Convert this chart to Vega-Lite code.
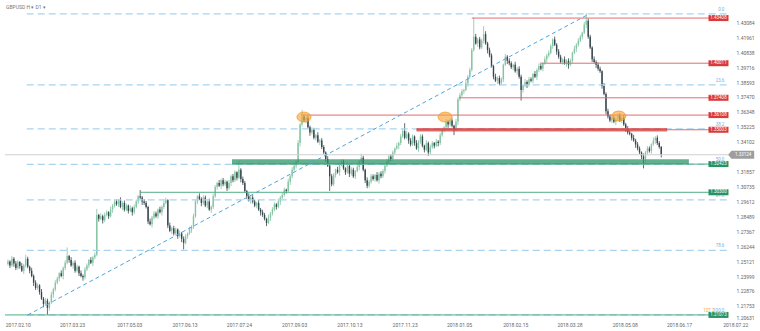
{
"$schema":"https://vega.github.io/schema/vega-lite/v6.json",
"width":760,"height":321,"autosize":{"type":"none"},"padding":{"left":0,"top":0,"right":0,"bottom":10},"background":"white",
"config":{"view":{"stroke":null},"font":"Roboto","axis":{"labelOverlap":false,"labelBound":false}},
"title":{"text":"GBPUSD    H ▾    D1 ▾","anchor":"start","offset":-10,"dx":6,"fontSize":5,"fontWeight":"normal","color":"#777"},
"datasets":{
"ohlc":[
{"i":0,"o":1.2490,"h":1.2525,"l":1.2478,"c":1.2510},
{"i":1,"o":1.2510,"h":1.2518,"l":1.2460,"c":1.2480},
{"i":2,"o":1.2480,"h":1.2552,"l":1.2470,"c":1.2530},
{"i":3,"o":1.2530,"h":1.2542,"l":1.2470,"c":1.2495},
{"i":4,"o":1.2495,"h":1.2513,"l":1.2445,"c":1.2460},
{"i":5,"o":1.2460,"h":1.2520,"l":1.2448,"c":1.2505},
{"i":6,"o":1.2505,"h":1.2513,"l":1.2455,"c":1.2475},
{"i":7,"o":1.2475,"h":1.2497,"l":1.2430,"c":1.2440},
{"i":8,"o":1.2440,"h":1.2492,"l":1.2415,"c":1.2480},
{"i":9,"o":1.2480,"h":1.2560,"l":1.2465,"c":1.2530},
{"i":10,"o":1.2530,"h":1.2545,"l":1.2458,"c":1.2470},
{"i":11,"o":1.2470,"h":1.2478,"l":1.2420,"c":1.2440},
{"i":12,"o":1.2440,"h":1.2462,"l":1.2390,"c":1.2400},
{"i":13,"o":1.2400,"h":1.2412,"l":1.2325,"c":1.2350},
{"i":14,"o":1.2350,"h":1.2368,"l":1.2295,"c":1.2310},
{"i":15,"o":1.2310,"h":1.2345,"l":1.2298,"c":1.2330},
{"i":16,"o":1.2330,"h":1.2338,"l":1.2260,"c":1.2280},
{"i":17,"o":1.2280,"h":1.2302,"l":1.2220,"c":1.2230},
{"i":18,"o":1.2230,"h":1.2242,"l":1.2165,"c":1.2190},
{"i":19,"o":1.2190,"h":1.2233,"l":1.2175,"c":1.2215},
{"i":20,"o":1.2215,"h":1.2230,"l":1.2109,"c":1.2160},
{"i":21,"o":1.2160,"h":1.2208,"l":1.2140,"c":1.2200},
{"i":22,"o":1.2200,"h":1.2282,"l":1.2190,"c":1.2260},
{"i":23,"o":1.2260,"h":1.2312,"l":1.2235,"c":1.2300},
{"i":24,"o":1.2300,"h":1.2368,"l":1.2285,"c":1.2350},
{"i":25,"o":1.2350,"h":1.2395,"l":1.2338,"c":1.2380},
{"i":26,"o":1.2380,"h":1.2428,"l":1.2360,"c":1.2420},
{"i":27,"o":1.2420,"h":1.2442,"l":1.2390,"c":1.2400},
{"i":28,"o":1.2400,"h":1.2472,"l":1.2375,"c":1.2460},
{"i":29,"o":1.2460,"h":1.2518,"l":1.2445,"c":1.2500},
{"i":30,"o":1.2500,"h":1.2615,"l":1.2488,"c":1.2550},
{"i":31,"o":1.2550,"h":1.2558,"l":1.2500,"c":1.2520},
{"i":32,"o":1.2520,"h":1.2542,"l":1.2470,"c":1.2480},
{"i":33,"o":1.2480,"h":1.2512,"l":1.2455,"c":1.2500},
{"i":34,"o":1.2500,"h":1.2518,"l":1.2425,"c":1.2440},
{"i":35,"o":1.2440,"h":1.2485,"l":1.2428,"c":1.2470},
{"i":36,"o":1.2470,"h":1.2478,"l":1.2400,"c":1.2420},
{"i":37,"o":1.2420,"h":1.2442,"l":1.2390,"c":1.2400},
{"i":38,"o":1.2400,"h":1.2412,"l":1.2365,"c":1.2390},
{"i":39,"o":1.2390,"h":1.2468,"l":1.2375,"c":1.2450},
{"i":40,"o":1.2450,"h":1.2495,"l":1.2438,"c":1.2480},
{"i":41,"o":1.2480,"h":1.2528,"l":1.2460,"c":1.2520},
{"i":42,"o":1.2520,"h":1.2542,"l":1.2490,"c":1.2500},
{"i":43,"o":1.2500,"h":1.2552,"l":1.2475,"c":1.2540},
{"i":44,"o":1.2540,"h":1.2578,"l":1.2525,"c":1.2560},
{"i":45,"o":1.2560,"h":1.2905,"l":1.2548,"c":1.2860},
{"i":46,"o":1.2860,"h":1.2868,"l":1.2810,"c":1.2830},
{"i":47,"o":1.2830,"h":1.2872,"l":1.2820,"c":1.2850},
{"i":48,"o":1.2850,"h":1.2862,"l":1.2795,"c":1.2820},
{"i":49,"o":1.2820,"h":1.2878,"l":1.2805,"c":1.2860},
{"i":50,"o":1.2860,"h":1.2895,"l":1.2848,"c":1.2880},
{"i":51,"o":1.2880,"h":1.2888,"l":1.2830,"c":1.2850},
{"i":52,"o":1.2850,"h":1.2922,"l":1.2840,"c":1.2900},
{"i":53,"o":1.2900,"h":1.2942,"l":1.2875,"c":1.2930},
{"i":54,"o":1.2930,"h":1.2978,"l":1.2915,"c":1.2960},
{"i":55,"o":1.2960,"h":1.2975,"l":1.2928,"c":1.2940},
{"i":56,"o":1.2940,"h":1.2978,"l":1.2920,"c":1.2970},
{"i":57,"o":1.2970,"h":1.2992,"l":1.2910,"c":1.2920},
{"i":58,"o":1.2920,"h":1.2962,"l":1.2895,"c":1.2950},
{"i":59,"o":1.2950,"h":1.2968,"l":1.2885,"c":1.2900},
{"i":60,"o":1.2900,"h":1.2945,"l":1.2888,"c":1.2930},
{"i":61,"o":1.2930,"h":1.2938,"l":1.2870,"c":1.2890},
{"i":62,"o":1.2890,"h":1.2932,"l":1.2880,"c":1.2910},
{"i":63,"o":1.2910,"h":1.2922,"l":1.2855,"c":1.2880},
{"i":64,"o":1.2880,"h":1.2938,"l":1.2865,"c":1.2920},
{"i":65,"o":1.2920,"h":1.2975,"l":1.2908,"c":1.2960},
{"i":66,"o":1.2960,"h":1.3008,"l":1.2940,"c":1.3000},
{"i":67,"o":1.3000,"h":1.3047,"l":1.2980,"c":1.2990},
{"i":68,"o":1.2990,"h":1.3002,"l":1.2935,"c":1.2960},
{"i":69,"o":1.2960,"h":1.2978,"l":1.2935,"c":1.2950},
{"i":70,"o":1.2950,"h":1.2965,"l":1.2908,"c":1.2920},
{"i":71,"o":1.2920,"h":1.2928,"l":1.2790,"c":1.2810},
{"i":72,"o":1.2810,"h":1.2832,"l":1.2780,"c":1.2790},
{"i":73,"o":1.2790,"h":1.2852,"l":1.2765,"c":1.2840},
{"i":74,"o":1.2840,"h":1.2888,"l":1.2825,"c":1.2870},
{"i":75,"o":1.2870,"h":1.2885,"l":1.2838,"c":1.2850},
{"i":76,"o":1.2850,"h":1.2908,"l":1.2830,"c":1.2900},
{"i":77,"o":1.2900,"h":1.2922,"l":1.2870,"c":1.2880},
{"i":78,"o":1.2880,"h":1.2932,"l":1.2855,"c":1.2920},
{"i":79,"o":1.2920,"h":1.2968,"l":1.2905,"c":1.2950},
{"i":80,"o":1.2950,"h":1.2990,"l":1.2938,"c":1.2970},
{"i":81,"o":1.2970,"h":1.2978,"l":1.2760,"c":1.2780},
{"i":82,"o":1.2780,"h":1.2802,"l":1.2730,"c":1.2740},
{"i":83,"o":1.2740,"h":1.2772,"l":1.2715,"c":1.2760},
{"i":84,"o":1.2760,"h":1.2778,"l":1.2705,"c":1.2720},
{"i":85,"o":1.2720,"h":1.2765,"l":1.2708,"c":1.2750},
{"i":86,"o":1.2750,"h":1.2758,"l":1.2680,"c":1.2700},
{"i":87,"o":1.2700,"h":1.2742,"l":1.2690,"c":1.2720},
{"i":88,"o":1.2720,"h":1.2732,"l":1.2655,"c":1.2680},
{"i":89,"o":1.2680,"h":1.2698,"l":1.2600,"c":1.2650},
{"i":90,"o":1.2650,"h":1.2715,"l":1.2638,"c":1.2700},
{"i":91,"o":1.2700,"h":1.2728,"l":1.2680,"c":1.2720},
{"i":92,"o":1.2720,"h":1.2772,"l":1.2710,"c":1.2750},
{"i":93,"o":1.2750,"h":1.2782,"l":1.2725,"c":1.2770},
{"i":94,"o":1.2770,"h":1.2868,"l":1.2755,"c":1.2850},
{"i":95,"o":1.2850,"h":1.2975,"l":1.2838,"c":1.2960},
{"i":96,"o":1.2960,"h":1.3008,"l":1.2940,"c":1.3000},
{"i":97,"o":1.3000,"h":1.3022,"l":1.2970,"c":1.2980},
{"i":98,"o":1.2980,"h":1.2992,"l":1.2925,"c":1.2950},
{"i":99,"o":1.2950,"h":1.3008,"l":1.2935,"c":1.2990},
{"i":100,"o":1.2990,"h":1.3005,"l":1.2918,"c":1.2930},
{"i":101,"o":1.2930,"h":1.2968,"l":1.2910,"c":1.2960},
{"i":102,"o":1.2960,"h":1.2982,"l":1.2890,"c":1.2900},
{"i":103,"o":1.2900,"h":1.2932,"l":1.2875,"c":1.2920},
{"i":104,"o":1.2920,"h":1.3018,"l":1.2905,"c":1.3000},
{"i":105,"o":1.3000,"h":1.3085,"l":1.2988,"c":1.3070},
{"i":106,"o":1.3070,"h":1.3108,"l":1.3050,"c":1.3100},
{"i":107,"o":1.3100,"h":1.3122,"l":1.3070,"c":1.3080},
{"i":108,"o":1.3080,"h":1.3132,"l":1.3055,"c":1.3120},
{"i":109,"o":1.3120,"h":1.3138,"l":1.3075,"c":1.3090},
{"i":110,"o":1.3090,"h":1.3125,"l":1.3078,"c":1.3110},
{"i":111,"o":1.3110,"h":1.3118,"l":1.3040,"c":1.3060},
{"i":112,"o":1.3060,"h":1.3122,"l":1.3050,"c":1.3100},
{"i":113,"o":1.3100,"h":1.3162,"l":1.3075,"c":1.3150},
{"i":114,"o":1.3150,"h":1.3168,"l":1.3105,"c":1.3120},
{"i":115,"o":1.3120,"h":1.3195,"l":1.3108,"c":1.3180},
{"i":116,"o":1.3180,"h":1.3188,"l":1.3120,"c":1.3140},
{"i":117,"o":1.3140,"h":1.3270,"l":1.3130,"c":1.3200},
{"i":118,"o":1.3200,"h":1.3212,"l":1.3105,"c":1.3130},
{"i":119,"o":1.3130,"h":1.3148,"l":1.3085,"c":1.3100},
{"i":120,"o":1.3100,"h":1.3115,"l":1.3028,"c":1.3040},
{"i":121,"o":1.3040,"h":1.3048,"l":1.2980,"c":1.3000},
{"i":122,"o":1.3000,"h":1.3022,"l":1.2960,"c":1.2970},
{"i":123,"o":1.2970,"h":1.3002,"l":1.2945,"c":1.2990},
{"i":124,"o":1.2990,"h":1.3008,"l":1.2945,"c":1.2960},
{"i":125,"o":1.2960,"h":1.2975,"l":1.2918,"c":1.2930},
{"i":126,"o":1.2930,"h":1.2958,"l":1.2910,"c":1.2950},
{"i":127,"o":1.2950,"h":1.2972,"l":1.2890,"c":1.2900},
{"i":128,"o":1.2900,"h":1.2912,"l":1.2855,"c":1.2880},
{"i":129,"o":1.2880,"h":1.2898,"l":1.2845,"c":1.2860},
{"i":130,"o":1.2860,"h":1.2875,"l":1.2818,"c":1.2830},
{"i":131,"o":1.2830,"h":1.2838,"l":1.2775,"c":1.2800},
{"i":132,"o":1.2800,"h":1.2862,"l":1.2790,"c":1.2840},
{"i":133,"o":1.2840,"h":1.2882,"l":1.2815,"c":1.2870},
{"i":134,"o":1.2870,"h":1.2918,"l":1.2855,"c":1.2900},
{"i":135,"o":1.2900,"h":1.2955,"l":1.2888,"c":1.2940},
{"i":136,"o":1.2940,"h":1.2948,"l":1.2900,"c":1.2920},
{"i":137,"o":1.2920,"h":1.2982,"l":1.2910,"c":1.2960},
{"i":138,"o":1.2960,"h":1.3002,"l":1.2935,"c":1.2990},
{"i":139,"o":1.2990,"h":1.3028,"l":1.2975,"c":1.3010},
{"i":140,"o":1.3010,"h":1.3065,"l":1.2998,"c":1.3050},
{"i":141,"o":1.3050,"h":1.3058,"l":1.3020,"c":1.3040},
{"i":142,"o":1.3040,"h":1.3132,"l":1.3030,"c":1.3110},
{"i":143,"o":1.3110,"h":1.3162,"l":1.3085,"c":1.3150},
{"i":144,"o":1.3150,"h":1.3218,"l":1.3135,"c":1.3200},
{"i":145,"o":1.3200,"h":1.3245,"l":1.3188,"c":1.3230},
{"i":146,"o":1.3230,"h":1.3268,"l":1.3210,"c":1.3260},
{"i":147,"o":1.3260,"h":1.3422,"l":1.3250,"c":1.3400},
{"i":148,"o":1.3400,"h":1.3552,"l":1.3375,"c":1.3540},
{"i":149,"o":1.3540,"h":1.3650,"l":1.3525,"c":1.3600},
{"i":150,"o":1.3600,"h":1.3615,"l":1.3558,"c":1.3570},
{"i":151,"o":1.3570,"h":1.3598,"l":1.3550,"c":1.3590},
{"i":152,"o":1.3590,"h":1.3612,"l":1.3510,"c":1.3520},
{"i":153,"o":1.3520,"h":1.3532,"l":1.3455,"c":1.3480},
{"i":154,"o":1.3480,"h":1.3518,"l":1.3465,"c":1.3500},
{"i":155,"o":1.3500,"h":1.3515,"l":1.3428,"c":1.3440},
{"i":156,"o":1.3440,"h":1.3468,"l":1.3420,"c":1.3460},
{"i":157,"o":1.3460,"h":1.3482,"l":1.3400,"c":1.3410},
{"i":158,"o":1.3410,"h":1.3432,"l":1.3385,"c":1.3420},
{"i":159,"o":1.3420,"h":1.3438,"l":1.3355,"c":1.3370},
{"i":160,"o":1.3370,"h":1.3385,"l":1.3318,"c":1.3330},
{"i":161,"o":1.3330,"h":1.3338,"l":1.3260,"c":1.3280},
{"i":162,"o":1.3280,"h":1.3302,"l":1.3220,"c":1.3230},
{"i":163,"o":1.3230,"h":1.3238,"l":1.3040,"c":1.3150},
{"i":164,"o":1.3150,"h":1.3168,"l":1.3075,"c":1.3090},
{"i":165,"o":1.3090,"h":1.3175,"l":1.3078,"c":1.3160},
{"i":166,"o":1.3160,"h":1.3208,"l":1.3140,"c":1.3200},
{"i":167,"o":1.3200,"h":1.3222,"l":1.3170,"c":1.3180},
{"i":168,"o":1.3180,"h":1.3252,"l":1.3155,"c":1.3240},
{"i":169,"o":1.3240,"h":1.3278,"l":1.3225,"c":1.3260},
{"i":170,"o":1.3260,"h":1.3275,"l":1.3198,"c":1.3210},
{"i":171,"o":1.3210,"h":1.3218,"l":1.3160,"c":1.3180},
{"i":172,"o":1.3180,"h":1.3252,"l":1.3170,"c":1.3230},
{"i":173,"o":1.3230,"h":1.3242,"l":1.3145,"c":1.3170},
{"i":174,"o":1.3170,"h":1.3218,"l":1.3155,"c":1.3200},
{"i":175,"o":1.3200,"h":1.3215,"l":1.3138,"c":1.3150},
{"i":176,"o":1.3150,"h":1.3198,"l":1.3130,"c":1.3190},
{"i":177,"o":1.3190,"h":1.3242,"l":1.3180,"c":1.3220},
{"i":178,"o":1.3220,"h":1.3272,"l":1.3195,"c":1.3260},
{"i":179,"o":1.3260,"h":1.3320,"l":1.3245,"c":1.3290},
{"i":180,"o":1.3290,"h":1.3305,"l":1.3188,"c":1.3200},
{"i":181,"o":1.3200,"h":1.3208,"l":1.3100,"c":1.3120},
{"i":182,"o":1.3120,"h":1.3142,"l":1.3060,"c":1.3080},
{"i":183,"o":1.3080,"h":1.3122,"l":1.3065,"c":1.3110},
{"i":184,"o":1.3110,"h":1.3168,"l":1.3095,"c":1.3150},
{"i":185,"o":1.3150,"h":1.3165,"l":1.3118,"c":1.3130},
{"i":186,"o":1.3130,"h":1.3168,"l":1.3110,"c":1.3160},
{"i":187,"o":1.3160,"h":1.3182,"l":1.3110,"c":1.3120},
{"i":188,"o":1.3120,"h":1.3182,"l":1.3095,"c":1.3170},
{"i":189,"o":1.3170,"h":1.3188,"l":1.3135,"c":1.3150},
{"i":190,"o":1.3150,"h":1.3205,"l":1.3138,"c":1.3190},
{"i":191,"o":1.3190,"h":1.3238,"l":1.3170,"c":1.3230},
{"i":192,"o":1.3230,"h":1.3282,"l":1.3220,"c":1.3260},
{"i":193,"o":1.3260,"h":1.3312,"l":1.3235,"c":1.3300},
{"i":194,"o":1.3300,"h":1.3318,"l":1.3265,"c":1.3280},
{"i":195,"o":1.3280,"h":1.3345,"l":1.3268,"c":1.3330},
{"i":196,"o":1.3330,"h":1.3368,"l":1.3310,"c":1.3360},
{"i":197,"o":1.3360,"h":1.3402,"l":1.3350,"c":1.3380},
{"i":198,"o":1.3380,"h":1.3412,"l":1.3355,"c":1.3400},
{"i":199,"o":1.3400,"h":1.3468,"l":1.3385,"c":1.3450},
{"i":200,"o":1.3450,"h":1.3505,"l":1.3438,"c":1.3490},
{"i":201,"o":1.3490,"h":1.3550,"l":1.3428,"c":1.3440},
{"i":202,"o":1.3440,"h":1.3492,"l":1.3430,"c":1.3470},
{"i":203,"o":1.3470,"h":1.3482,"l":1.3395,"c":1.3420},
{"i":204,"o":1.3420,"h":1.3438,"l":1.3375,"c":1.3390},
{"i":205,"o":1.3390,"h":1.3465,"l":1.3378,"c":1.3450},
{"i":206,"o":1.3450,"h":1.3458,"l":1.3380,"c":1.3400},
{"i":207,"o":1.3400,"h":1.3422,"l":1.3350,"c":1.3360},
{"i":208,"o":1.3360,"h":1.3422,"l":1.3335,"c":1.3410},
{"i":209,"o":1.3410,"h":1.3468,"l":1.3395,"c":1.3450},
{"i":210,"o":1.3450,"h":1.3465,"l":1.3368,"c":1.3380},
{"i":211,"o":1.3380,"h":1.3388,"l":1.3330,"c":1.3350},
{"i":212,"o":1.3350,"h":1.3422,"l":1.3340,"c":1.3400},
{"i":213,"o":1.3400,"h":1.3412,"l":1.3305,"c":1.3330},
{"i":214,"o":1.3330,"h":1.3388,"l":1.3315,"c":1.3370},
{"i":215,"o":1.3370,"h":1.3415,"l":1.3358,"c":1.3400},
{"i":216,"o":1.3400,"h":1.3408,"l":1.3360,"c":1.3380},
{"i":217,"o":1.3380,"h":1.3432,"l":1.3370,"c":1.3410},
{"i":218,"o":1.3410,"h":1.3422,"l":1.3375,"c":1.3400},
{"i":219,"o":1.3400,"h":1.3478,"l":1.3385,"c":1.3460},
{"i":220,"o":1.3460,"h":1.3515,"l":1.3448,"c":1.3500},
{"i":221,"o":1.3500,"h":1.3528,"l":1.3480,"c":1.3520},
{"i":222,"o":1.3520,"h":1.3582,"l":1.3510,"c":1.3560},
{"i":223,"o":1.3560,"h":1.3572,"l":1.3515,"c":1.3540},
{"i":224,"o":1.3540,"h":1.3588,"l":1.3525,"c":1.3570},
{"i":225,"o":1.3570,"h":1.3585,"l":1.3518,"c":1.3530},
{"i":226,"o":1.3530,"h":1.3538,"l":1.3460,"c":1.3500},
{"i":227,"o":1.3500,"h":1.3582,"l":1.3490,"c":1.3560},
{"i":228,"o":1.3560,"h":1.3742,"l":1.3535,"c":1.3730},
{"i":229,"o":1.3730,"h":1.3778,"l":1.3715,"c":1.3760},
{"i":230,"o":1.3760,"h":1.3805,"l":1.3748,"c":1.3790},
{"i":231,"o":1.3790,"h":1.3808,"l":1.3770,"c":1.3800},
{"i":232,"o":1.3800,"h":1.3872,"l":1.3790,"c":1.3850},
{"i":233,"o":1.3850,"h":1.3912,"l":1.3825,"c":1.3900},
{"i":234,"o":1.3900,"h":1.3968,"l":1.3885,"c":1.3950},
{"i":235,"o":1.3950,"h":1.4115,"l":1.3938,"c":1.4100},
{"i":236,"o":1.4100,"h":1.4345,"l":1.4088,"c":1.4200},
{"i":237,"o":1.4200,"h":1.4222,"l":1.4140,"c":1.4150},
{"i":238,"o":1.4150,"h":1.4192,"l":1.4125,"c":1.4180},
{"i":239,"o":1.4180,"h":1.4198,"l":1.4105,"c":1.4120},
{"i":240,"o":1.4120,"h":1.4185,"l":1.4108,"c":1.4170},
{"i":241,"o":1.4170,"h":1.4280,"l":1.4150,"c":1.4220},
{"i":242,"o":1.4220,"h":1.4242,"l":1.4140,"c":1.4150},
{"i":243,"o":1.4150,"h":1.4162,"l":1.4075,"c":1.4100},
{"i":244,"o":1.4100,"h":1.4118,"l":1.4045,"c":1.4060},
{"i":245,"o":1.4060,"h":1.4075,"l":1.3968,"c":1.3980},
{"i":246,"o":1.3980,"h":1.3988,"l":1.3880,"c":1.3900},
{"i":247,"o":1.3900,"h":1.3922,"l":1.3860,"c":1.3870},
{"i":248,"o":1.3870,"h":1.3902,"l":1.3845,"c":1.3890},
{"i":249,"o":1.3890,"h":1.3908,"l":1.3835,"c":1.3850},
{"i":250,"o":1.3850,"h":1.3895,"l":1.3838,"c":1.3880},
{"i":251,"o":1.3880,"h":1.3998,"l":1.3860,"c":1.3990},
{"i":252,"o":1.3990,"h":1.4072,"l":1.3980,"c":1.4050},
{"i":253,"o":1.4050,"h":1.4062,"l":1.3995,"c":1.4020},
{"i":254,"o":1.4020,"h":1.4038,"l":1.3985,"c":1.4000},
{"i":255,"o":1.4000,"h":1.4015,"l":1.3958,"c":1.3970},
{"i":256,"o":1.3970,"h":1.3998,"l":1.3950,"c":1.3990},
{"i":257,"o":1.3990,"h":1.4012,"l":1.3930,"c":1.3940},
{"i":258,"o":1.3940,"h":1.3972,"l":1.3915,"c":1.3960},
{"i":259,"o":1.3960,"h":1.3978,"l":1.3885,"c":1.3900},
{"i":260,"o":1.3900,"h":1.3915,"l":1.3720,"c":1.3800},
{"i":261,"o":1.3800,"h":1.3838,"l":1.3780,"c":1.3830},
{"i":262,"o":1.3830,"h":1.3882,"l":1.3820,"c":1.3860},
{"i":263,"o":1.3860,"h":1.3872,"l":1.3815,"c":1.3840},
{"i":264,"o":1.3840,"h":1.3898,"l":1.3825,"c":1.3880},
{"i":265,"o":1.3880,"h":1.3895,"l":1.3858,"c":1.3870},
{"i":266,"o":1.3870,"h":1.3928,"l":1.3850,"c":1.3920},
{"i":267,"o":1.3920,"h":1.3942,"l":1.3890,"c":1.3900},
{"i":268,"o":1.3900,"h":1.3962,"l":1.3875,"c":1.3950},
{"i":269,"o":1.3950,"h":1.3998,"l":1.3935,"c":1.3980},
{"i":270,"o":1.3980,"h":1.3995,"l":1.3948,"c":1.3960},
{"i":271,"o":1.3960,"h":1.4008,"l":1.3940,"c":1.4000},
{"i":272,"o":1.4000,"h":1.4052,"l":1.3990,"c":1.4030},
{"i":273,"o":1.4030,"h":1.4072,"l":1.4005,"c":1.4060},
{"i":274,"o":1.4060,"h":1.4098,"l":1.4045,"c":1.4080},
{"i":275,"o":1.4080,"h":1.4145,"l":1.4068,"c":1.4130},
{"i":276,"o":1.4130,"h":1.4188,"l":1.4110,"c":1.4180},
{"i":277,"o":1.4180,"h":1.4202,"l":1.4130,"c":1.4140},
{"i":278,"o":1.4140,"h":1.4152,"l":1.4065,"c":1.4090},
{"i":279,"o":1.4090,"h":1.4108,"l":1.4035,"c":1.4050},
{"i":280,"o":1.4050,"h":1.4065,"l":1.3998,"c":1.4010},
{"i":281,"o":1.4010,"h":1.4038,"l":1.3990,"c":1.4030},
{"i":282,"o":1.4030,"h":1.4052,"l":1.3990,"c":1.4000},
{"i":283,"o":1.4000,"h":1.4032,"l":1.3975,"c":1.4020},
{"i":284,"o":1.4020,"h":1.4038,"l":1.3960,"c":1.3990},
{"i":285,"o":1.3990,"h":1.4035,"l":1.3978,"c":1.4020},
{"i":286,"o":1.4020,"h":1.4088,"l":1.4000,"c":1.4080},
{"i":287,"o":1.4080,"h":1.4132,"l":1.4070,"c":1.4110},
{"i":288,"o":1.4110,"h":1.4152,"l":1.4085,"c":1.4140},
{"i":289,"o":1.4140,"h":1.4188,"l":1.4125,"c":1.4170},
{"i":290,"o":1.4170,"h":1.4215,"l":1.4158,"c":1.4200},
{"i":291,"o":1.4200,"h":1.4238,"l":1.4180,"c":1.4230},
{"i":292,"o":1.4230,"h":1.4312,"l":1.4220,"c":1.4290},
{"i":293,"o":1.4290,"h":1.4377,"l":1.4265,"c":1.4320},
{"i":294,"o":1.4320,"h":1.4338,"l":1.4185,"c":1.4200},
{"i":295,"o":1.4200,"h":1.4215,"l":1.4108,"c":1.4120},
{"i":296,"o":1.4120,"h":1.4128,"l":1.4010,"c":1.4030},
{"i":297,"o":1.4030,"h":1.4052,"l":1.4000,"c":1.4010},
{"i":298,"o":1.4010,"h":1.4022,"l":1.3965,"c":1.3990},
{"i":299,"o":1.3990,"h":1.4008,"l":1.3945,"c":1.3960},
{"i":300,"o":1.3960,"h":1.3975,"l":1.3928,"c":1.3940},
{"i":301,"o":1.3940,"h":1.3948,"l":1.3810,"c":1.3830},
{"i":302,"o":1.3830,"h":1.3852,"l":1.3760,"c":1.3770},
{"i":303,"o":1.3770,"h":1.3782,"l":1.3615,"c":1.3640},
{"i":304,"o":1.3640,"h":1.3658,"l":1.3585,"c":1.3600},
{"i":305,"o":1.3600,"h":1.3615,"l":1.3558,"c":1.3570},
{"i":306,"o":1.3570,"h":1.3598,"l":1.3550,"c":1.3590},
{"i":307,"o":1.3590,"h":1.3612,"l":1.3550,"c":1.3560},
{"i":308,"o":1.3560,"h":1.3592,"l":1.3535,"c":1.3580},
{"i":309,"o":1.3580,"h":1.3620,"l":1.3565,"c":1.3610},
{"i":310,"o":1.3610,"h":1.3625,"l":1.3558,"c":1.3570},
{"i":311,"o":1.3570,"h":1.3598,"l":1.3550,"c":1.3590},
{"i":312,"o":1.3590,"h":1.3612,"l":1.3530,"c":1.3540},
{"i":313,"o":1.3540,"h":1.3552,"l":1.3485,"c":1.3510},
{"i":314,"o":1.3510,"h":1.3528,"l":1.3465,"c":1.3480},
{"i":315,"o":1.3480,"h":1.3495,"l":1.3458,"c":1.3470},
{"i":316,"o":1.3470,"h":1.3478,"l":1.3420,"c":1.3440},
{"i":317,"o":1.3440,"h":1.3462,"l":1.3410,"c":1.3420},
{"i":318,"o":1.3420,"h":1.3432,"l":1.3365,"c":1.3390},
{"i":319,"o":1.3390,"h":1.3408,"l":1.3345,"c":1.3360},
{"i":320,"o":1.3360,"h":1.3375,"l":1.3318,"c":1.3330},
{"i":321,"o":1.3330,"h":1.3338,"l":1.3280,"c":1.3300},
{"i":322,"o":1.3300,"h":1.3322,"l":1.3210,"c":1.3280},
{"i":323,"o":1.3280,"h":1.3342,"l":1.3255,"c":1.3330},
{"i":324,"o":1.3330,"h":1.3378,"l":1.3315,"c":1.3360},
{"i":325,"o":1.3360,"h":1.3375,"l":1.3328,"c":1.3340},
{"i":326,"o":1.3340,"h":1.3398,"l":1.3320,"c":1.3390},
{"i":327,"o":1.3390,"h":1.3442,"l":1.3380,"c":1.3420},
{"i":328,"o":1.3420,"h":1.3452,"l":1.3395,"c":1.3440},
{"i":329,"o":1.3440,"h":1.3458,"l":1.3385,"c":1.3400},
{"i":330,"o":1.3400,"h":1.3415,"l":1.3358,"c":1.3370},
{"i":331,"o":1.3370,"h":1.3378,"l":1.3292,"c":1.3312}
],
"fib":[{"p":1.4372,"t":"0.0"},{"p":1.3838,"t":"23.6"},{"p":1.3507,"t":"38.2"},{"p":1.3240,"t":"50.0"},{"p":1.2973,"t":"61.8"},{"p":1.2593,"t":"78.6"},{"p":1.2108,"t":"100.0"}],
"ext":[{"p":1.2108,"t":"127.2"}],
"levels":[
{"p":1.43408,"s":235,"k":"R","t":"1.43408"},
{"p":1.40011,"s":269.5,"k":"R","t":"1.40011"},
{"p":1.37408,"s":228.5,"k":"R","t":"1.37408"},
{"p":1.36108,"s":148.5,"k":"R","t":"1.36108"},
{"p":1.35003,"s":207,"k":"R","t":"1.35003"},
{"p":1.32423,"s":113.5,"k":"S","t":"1.32423"},
{"p":1.30300,"s":67,"k":"S","t":"1.30300"},
{"p":1.21073,"s":-1.5,"k":"S","t":"1.21073"}
],
"zones":[{"s":113.5,"e":345,"p1":1.3241,"p2":1.3279,"k":"S"},{"s":207,"e":334,"p1":1.3487,"p2":1.3513,"k":"R"}],
"last":[{"p":1.33124}],
"marks":[{"i":150,"p":1.3596},{"i":221.5,"p":1.3596},{"i":309.5,"p":1.3604}],
"trend":[{"i":10,"p":1.2107},{"i":293.5,"p":1.4364}]
},
"layer":[
{"data":{"name":"ohlc"},
 "encoding":{"x":{"field":"i","type":"quantitative","scale":{"domain":[-1.5,378.5],"nice":false,"zero":false},"axis":{"values":[5,32.5,61.5,89.5,117,145,173,201,228.5,257,284.5,312.5,340,368.5],"tickCount":50,
   "labelExpr":"datum.value==5?'2017.02.10':datum.value==32.5?'2017.03.23':datum.value==61.5?'2017.05.03':datum.value==89.5?'2017.06.13':datum.value==117?'2017.07.24':datum.value==145?'2017.09.03':datum.value==173?'2017.10.13':datum.value==201?'2017.11.23':datum.value==228.5?'2018.01.05':datum.value==257?'2018.02.15':datum.value==284.5?'2018.03.28':datum.value==312.5?'2018.05.08':datum.value==340?'2018.06.17':'2018.07.22'",
   "labelFontSize":5,"labelColor":"#666","domain":false,"ticks":false,"grid":false,"labelPadding":1,"labelFlush":false,"labelOverlap":false,"title":null}},
  "y":{"field":"l","type":"quantitative","scale":{"domain":[1.20616,1.44767],"nice":false,"zero":false},"axis":{"orient":"right","offset":-25,"values":[1.43084,1.41961,1.40838,1.39716,1.38593,1.37470,1.36348,1.35225,1.34102,1.31857,1.30735,1.29612,1.28489,1.27367,1.26244,1.25121,1.23999,1.22876,1.21753,1.20631],"tickCount":50,"format":".5f","labelFontSize":5,"labelColor":"#666","domain":false,"ticks":false,"grid":false,"labelPadding":1,"labelFlush":3,"labelAlign":"left","labelOverlap":false,"labelBound":false,"title":null}},
  "color":{"condition":{"test":"datum.c >= datum.o","value":"#84c4a3"},"value":"#37464d"}},
 "layer":[
  {"mark":{"type":"rule","strokeWidth":0.8},"encoding":{"y2":{"field":"h"}}},
  {"mark":{"type":"bar","width":1.4},"encoding":{"y":{"field":"o","type":"quantitative"},"y2":{"field":"c"}}}
 ]},
{"data":{"name":"fib"},"mark":{"type":"rule","color":"#a9d4ef","strokeDash":[7,4],"strokeWidth":1.2},
 "encoding":{"x":{"datum":9.5,"type":"quantitative"},"x2":{"datum":364.5},"y":{"field":"p","type":"quantitative"}}},
{"data":{"name":"last"},"mark":{"type":"rule","color":"#cfcfcf","strokeWidth":1},
 "encoding":{"x":{"datum":-1.5,"type":"quantitative"},"x2":{"datum":366},"y":{"field":"p","type":"quantitative"}}},
{"data":{"name":"levels"},"mark":{"type":"rule","strokeWidth":1},
 "encoding":{"x":{"field":"s","type":"quantitative"},"x2":{"datum":360},"y":{"field":"p","type":"quantitative"},
 "stroke":{"field":"k","type":"nominal","scale":{"domain":["R","S"],"range":["#e46c6c","#4fae86"]},"legend":null}}},
{"data":{"name":"zones"},"mark":{"type":"rect","opacity":0.72},
 "encoding":{"x":{"field":"s","type":"quantitative"},"x2":{"field":"e"},"y":{"field":"p1","type":"quantitative"},"y2":{"field":"p2"},
 "fill":{"field":"k","type":"nominal","scale":{"domain":["R","S"],"range":["#d93a3a","#279263"]},"legend":null}}},
{"data":{"name":"trend"},"mark":{"type":"line","color":"#4ea5dd","strokeDash":[4,3],"strokeWidth":1},
 "encoding":{"x":{"field":"i","type":"quantitative"},"y":{"field":"p","type":"quantitative"}}},
{"data":{"name":"marks"},"mark":{"type":"point","shape":"M-1,0A1,0.7,0,1,0,1,0A1,0.7,0,1,0,-1,0Z","size":196,"filled":true,"fill":"#f7a83e","fillOpacity":0.65,"stroke":"#f29b1d","strokeWidth":0.8},
 "encoding":{"x":{"field":"i","type":"quantitative"},"y":{"field":"p","type":"quantitative"}}},
{"data":{"name":"fib"},"mark":{"type":"text","align":"right","baseline":"bottom","dy":-2,"fontSize":4.5,"color":"#6fb3e3"},
 "encoding":{"x":{"datum":363,"type":"quantitative"},"y":{"field":"p","type":"quantitative"},"text":{"field":"t"}}},
{"data":{"name":"ext"},"mark":{"type":"text","align":"right","baseline":"bottom","dy":-2,"fontSize":4.5,"color":"#f5a533"},
 "encoding":{"x":{"datum":358,"type":"quantitative"},"y":{"field":"p","type":"quantitative"},"text":{"field":"t"}}},
{"data":{"name":"levels"},"mark":{"type":"point","shape":"M-1,-0.3H1V0.3H-1Z","size":400,"filled":true,"opacity":1,"strokeWidth":0},
 "encoding":{"x":{"datum":360,"type":"quantitative"},"y":{"field":"p","type":"quantitative"},"fill":{"field":"k","type":"nominal","legend":null}}},
{"data":{"name":"levels"},"mark":{"type":"text","align":"center","baseline":"middle","fontSize":4.5,"color":"white"},
 "encoding":{"x":{"datum":360,"type":"quantitative"},"y":{"field":"p","type":"quantitative"},"text":{"field":"t"}}},
{"data":{"name":"last"},"mark":{"type":"point","shape":"M-1,0L-0.75,-0.3H1V0.3H-0.75Z","size":676,"filled":true,"fill":"#9e9e9e","opacity":1,"strokeWidth":0},
 "encoding":{"x":{"datum":371.5,"type":"quantitative"},"y":{"field":"p","type":"quantitative"}}},
{"data":{"name":"last"},"mark":{"type":"text","align":"center","baseline":"middle","fontSize":4.5,"color":"white"},
 "encoding":{"x":{"datum":372.5,"type":"quantitative"},"y":{"field":"p","type":"quantitative"},"text":{"field":"p","format":".5f"}}}
]
}
